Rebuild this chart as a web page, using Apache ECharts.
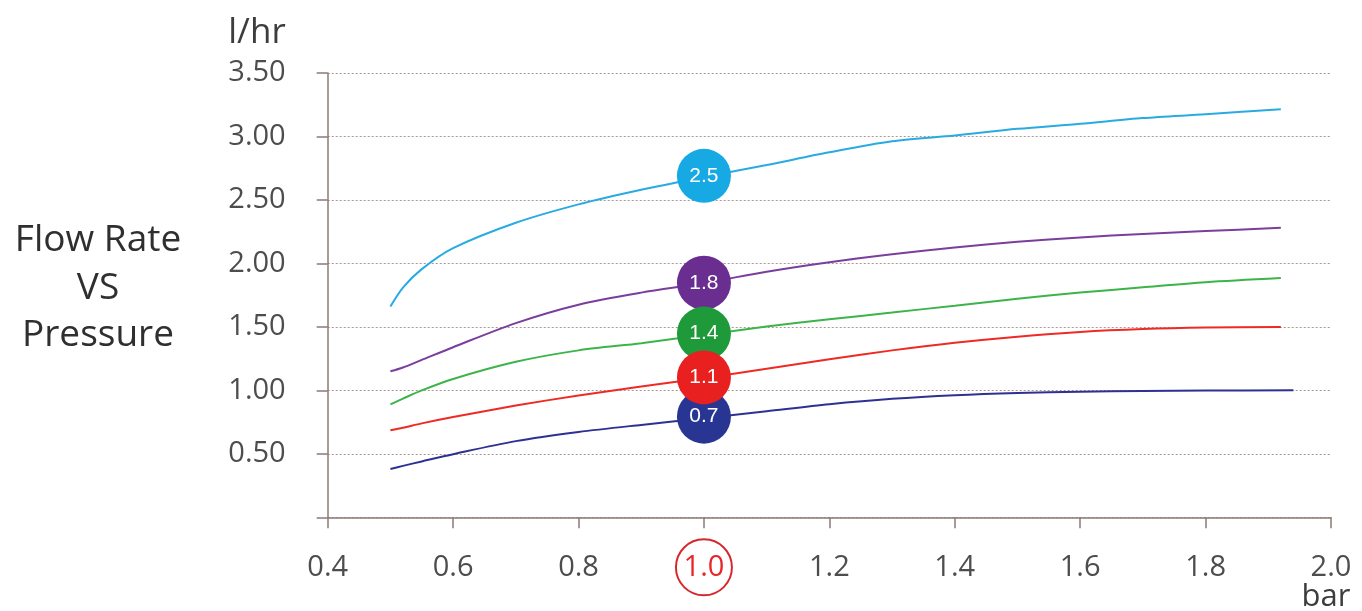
<!DOCTYPE html>
<html>
<head>
<meta charset="utf-8">
<script src="https://cdn.jsdelivr.net/npm/echarts@6/dist/echarts.min.js"></script>
<style>
html,body{margin:0;padding:0;background:#fff;}
#c{width:1362px;height:611px;}
</style>
</head>
<body>
<div id="c"></div>
<script>
// ---- data ----
var pressure = [0.5, 0.52, 0.55, 0.6, 0.7, 0.8, 0.9, 1.0, 1.1, 1.2, 1.3, 1.4, 1.5, 1.6, 1.7, 1.8, 1.92];
var pressureNavy = [0.5, 0.52, 0.55, 0.6, 0.7, 0.8, 0.9, 1.0, 1.1, 1.2, 1.3, 1.4, 1.5, 1.6, 1.7, 1.8, 1.94];
var flow25 = [1.66, 1.81, 1.955, 2.12, 2.32, 2.465, 2.58, 2.68, 2.775, 2.875, 2.962, 3.008, 3.06, 3.10, 3.145, 3.175, 3.215];
var flow18 = [1.15, 1.18, 1.24, 1.34, 1.53, 1.675, 1.77, 1.845, 1.935, 2.01, 2.072, 2.126, 2.17, 2.205, 2.232, 2.255, 2.28];
var flow14 = [0.89, 0.935, 1.0, 1.09, 1.225, 1.315, 1.372, 1.437, 1.503, 1.56, 1.613, 1.667, 1.722, 1.77, 1.812, 1.852, 1.885];
var flow11 = [0.685, 0.705, 0.74, 0.79, 0.88, 0.96, 1.03, 1.097, 1.17, 1.245, 1.315, 1.375, 1.423, 1.46, 1.483, 1.495, 1.50];
var flow07 = [0.38, 0.405, 0.44, 0.497, 0.6, 0.672, 0.728, 0.78, 0.835, 0.89, 0.933, 0.962, 0.98, 0.99, 0.995, 0.998, 1.0];

// markers at 1.0 bar (drawing order: blue, purple, navy, green, red)
var markerRatings = ['2.5', '1.8', '0.7', '1.4', '1.1'];
var markerFlow = [2.69, 1.848, 0.793, 1.447, 1.102];
var markerPressure = [1.0, 1.0, 1.0, 1.0, 1.0];
var markerColors = ['#17a9e4', '#6a2d90', '#283592', '#1f9a3b', '#e8201f'];

var yTickLabels = ['', '0.50', '1.00', '1.50', '2.00', '2.50', '3.00', '3.50'];

function pairs(xs, ys) { return xs.map(function (x, i) { return [x, ys[i]]; }); }

var FONT = 'Open Sans';
var chart = echarts.init(document.getElementById('c'), null, {renderer: 'canvas'});

function lineSeries(xs, ys, color) {
  return {
    type: 'line', data: pairs(xs, ys), smooth: 0.3,
    showSymbol: false, symbol: 'none', z: 3,
    lineStyle: {color: color, width: 2}
  };
}

var option = {
  animation: false,
  backgroundColor: '#ffffff',
  grid: {left: 327.7, right: 30.3, top: 73, bottom: 93.7, containLabel: false},
  xAxis: {
    type: 'value', min: 0.4, max: 2.0, interval: 0.2,
    axisLine: {show: true, lineStyle: {color: '#8c7b76', width: 1.5}},
    axisTick: {show: true, length: 11, lineStyle: {color: '#8c7b76', width: 1.5}},
    splitLine: {show: false},
    axisLabel: {
      margin: 22,
      formatter: function (v) {
        var s = v.toFixed(1);
        return Math.abs(v - 1) < 1e-6 ? '{hl|' + s + '}' : '{a|' + s + '}';
      },
      rich: {
        a: {fontFamily: FONT, fontSize: 29, color: '#4d4d4d', height: 56, lineHeight: 56, width: 56, align: 'center'},
        hl: {fontFamily: FONT, fontSize: 29, color: '#e8262a', height: 56, lineHeight: 56, width: 56, align: 'center',
             borderColor: '#d6282c', borderWidth: 2, borderRadius: 28}
      }
    }
  },
  yAxis: {
    type: 'value', min: 0, max: 3.5, interval: 0.5,
    axisLine: {show: true, lineStyle: {color: '#8c7b76', width: 1.5}},
    axisTick: {show: true, length: 11, lineStyle: {color: '#8c7b76', width: 1.5}},
    splitLine: {show: true, lineStyle: {color: '#a8968f', width: 1, type: [2, 2]}},
    axisLabel: {
      margin: 42, fontFamily: FONT, fontSize: 29, color: '#4d4d4d',
      formatter: function (v) { return yTickLabels[Math.round(v / 0.5)]; }
    }
  },
  graphic: [
    {type: 'text', x: 257, y: 33, style: {text: 'l/hr', fontFamily: FONT, fontSize: 35, fill: '#3d3d3d', textAlign: 'center', textVerticalAlign: 'middle'}},
    {type: 'text', x: 1326, y: 597, style: {text: 'bar', fontFamily: FONT, fontSize: 31, fill: '#3d3d3d', textAlign: 'center', textVerticalAlign: 'middle'}},
    {type: 'text', x: 98, y: 288, style: {text: 'Flow Rate\nVS\nPressure', fontFamily: FONT, fontSize: 37, lineHeight: 47.5, fill: '#2f2f2f', textAlign: 'center', textVerticalAlign: 'middle'}}
  ],
  series: [
    lineSeries(pressure, flow25, '#29abe2'),
    lineSeries(pressure, flow18, '#7a3e9d'),
    lineSeries(pressure, flow14, '#3cb44a'),
    lineSeries(pressure, flow11, '#ee2a24'),
    lineSeries(pressureNavy, flow07, '#2e3192'),
    {
      type: 'scatter', z: 5, symbolSize: 54,
      data: markerPressure.map(function (x, i) {
        return {value: [x, markerFlow[i]], itemStyle: {color: markerColors[i], opacity: 1}, label: {formatter: markerRatings[i]}};
      }),
      label: {show: true, position: 'inside', color: '#ffffff', fontSize: 21, fontFamily: 'Liberation Sans'},
      emphasis: {disabled: true}
    }
  ]
};
chart.setOption(option);
</script>
</body>
</html>
